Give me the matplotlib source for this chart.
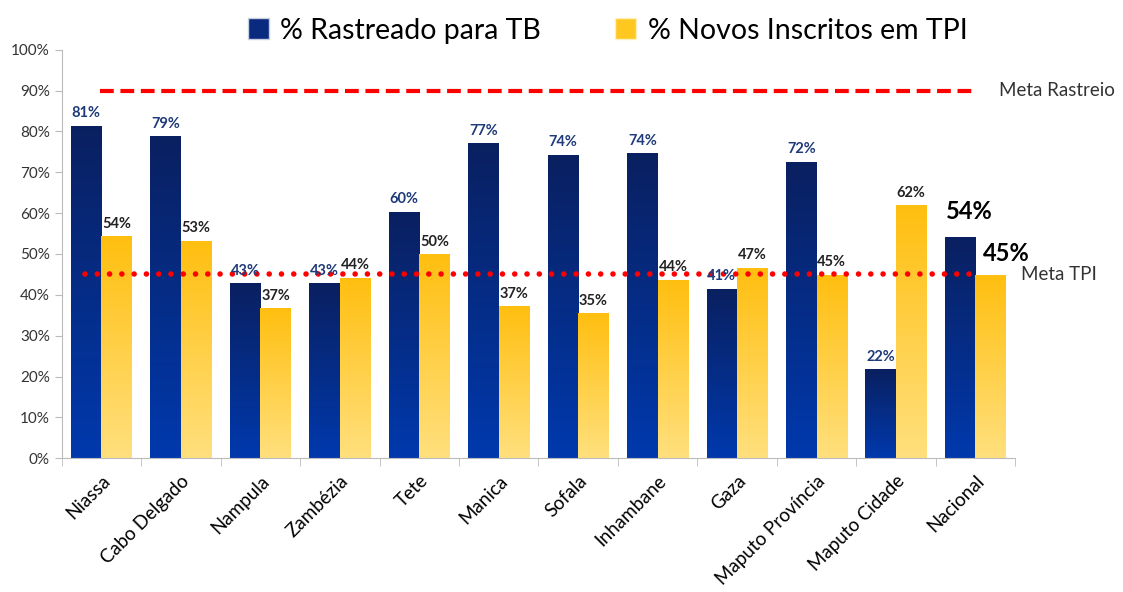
import matplotlib.pyplot as plt
import numpy as np
from matplotlib.colors import LinearSegmentedColormap
from matplotlib.patches import Patch

plt.rcParams['font.family'] = ['Lato', 'DejaVu Sans']

provincias = ['Niassa', 'Cabo Delgado', 'Nampula', 'Zambézia', 'Tete', 'Manica',
              'Sofala', 'Inhambane', 'Gaza', 'Maputo Província', 'Maputo Cidade', 'Nacional']
rastreado = [81.2, 78.6, 42.6, 42.6, 60.2, 77.0, 74.1, 74.5, 41.3, 72.4, 21.6, 54.1]
tpi = [54.2, 53.1, 36.6, 44.0, 49.8, 37.1, 35.3, 43.5, 46.5, 44.7, 61.7, 44.7]
rastreado_lbl = ['81%', '79%', '43%', '43%', '60%', '77%', '74%', '74%', '41%', '72%', '22%', '54%']
tpi_lbl = ['54%', '53%', '37%', '44%', '50%', '37%', '35%', '44%', '47%', '45%', '62%', '45%']
meta_rastreio = 90
meta_tpi = 45

blue_cmap = LinearSegmentedColormap.from_list('b', ['#0039ad', '#0a2060'])
gold_cmap = LinearSegmentedColormap.from_list('g', ['#ffe07e', '#ffbf10'])

fig = plt.figure(figsize=(11.23, 5.92), dpi=100)
ax = fig.add_axes([0.055, 0.226, 0.849, 0.69])

x = np.arange(len(provincias))
w = 0.385
grad = np.linspace(0, 1, 256).reshape(-1, 1)


def gradient_bars(xs, vals, cmap):
    bars = ax.bar(xs, vals, w, color='none', linewidth=0, zorder=3)
    for b in bars:
        x0, h = b.get_x(), b.get_height()
        ax.imshow(grad, extent=[x0, x0 + b.get_width(), 0, h], origin='lower',
                  aspect='auto', cmap=cmap, zorder=2)
    return bars


gradient_bars(x - w / 2, rastreado, blue_cmap)
gradient_bars(x + w / 2, tpi, gold_cmap)

last = len(provincias) - 1
for i in range(len(provincias)):
    if i == last:
        ax.text(x[i] - w / 2 + 0.11, rastreado[i] + 3.5, rastreado_lbl[i], ha='center', va='bottom',
                fontsize=17, fontweight='bold', color='black', zorder=5)
        ax.text(x[i] + w / 2 + 0.2, tpi[i] + 2.5, tpi_lbl[i], ha='center', va='bottom',
                fontsize=17, fontweight='bold', color='black', zorder=5)
    else:
        ax.text(x[i] - w / 2, rastreado[i] + 1.5, rastreado_lbl[i], ha='center', va='bottom',
                fontsize=10.5, fontweight='bold', color='#1f3a7a', zorder=5)
        ax.text(x[i] + w / 2, tpi[i] + 1.5, tpi_lbl[i], ha='center', va='bottom',
                fontsize=10.5, fontweight='bold', color='#222222', zorder=5)

ax.plot([-0.02, 11.0], [meta_rastreio] * 2, color='#ff0000', linewidth=3,
        linestyle=(0, (3.3, 1.6)), zorder=4)
ax.plot([-0.21, 10.94], [meta_tpi] * 2, color='#ff0000', linewidth=4,
        linestyle=(0, (0.01, 2.2)), dash_capstyle='round', zorder=4)
ax.text(11.3, meta_rastreio, 'Meta Rastreio', fontsize=13.5, va='center', ha='left', color='#333333')
ax.text(11.57, meta_tpi, 'Meta TPI', fontsize=13.5, va='center', ha='left', color='#333333')

ax.set_xlim(-0.5, len(provincias) - 0.5)
ax.set_ylim(0, 100)
ax.set_yticks(np.arange(0, 101, 10))
ax.set_yticklabels([f'{v}%' for v in range(0, 101, 10)], fontsize=11, color='#333333')
ax.set_xticks(x)
ax.set_xticklabels(provincias, rotation=45, ha='right', rotation_mode='anchor', fontsize=13.5)
ax.tick_params(axis='x', length=0, pad=10)
ax.set_xticks(np.arange(-0.5, len(provincias)), minor=True)
ax.tick_params(axis='x', which='minor', length=6, color='#bbbbbb')
ax.tick_params(axis='y', length=5, color='#bbbbbb')
for s in ['top', 'right']:
    ax.spines[s].set_visible(False)
for s in ['left', 'bottom']:
    ax.spines[s].set_color('#bbbbbb')

handles = [Patch(facecolor='#0a2a80', edgecolor='#c8cfe0'),
           Patch(facecolor='#ffc820', edgecolor='#fff0c0')]
fig.legend(handles, ['% Rastreado para TB', '% Novos Inscritos em TPI'], loc='center',
           bbox_to_anchor=(0.541, 0.948), ncol=2, frameon=False, fontsize=20.5,
           handlelength=0.75, handleheight=0.75, handletextpad=0.4, columnspacing=2.6)

fig.savefig('out.png', dpi=100)
